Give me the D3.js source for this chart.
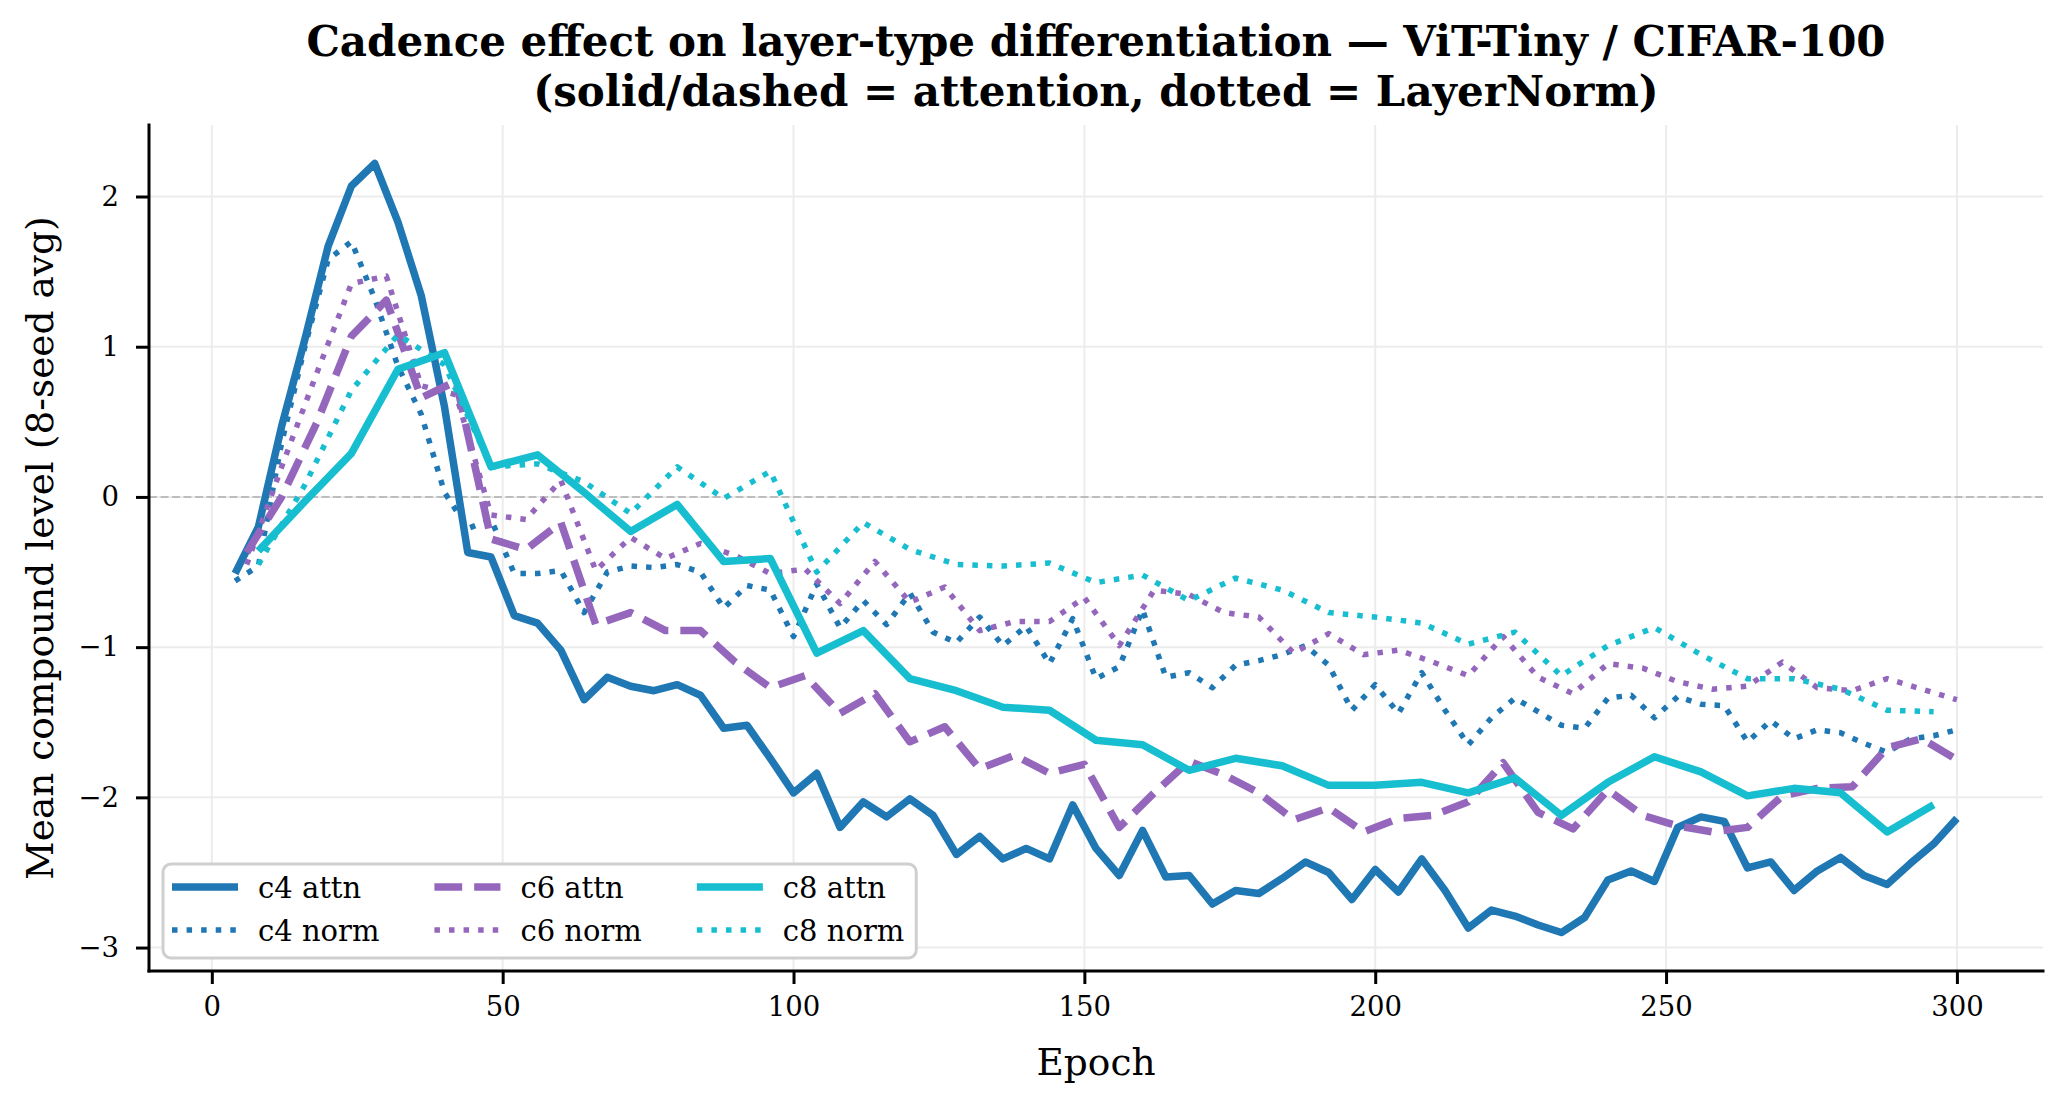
<!DOCTYPE html>
<html>
<head>
<meta charset="utf-8">
<script src="https://cdn.jsdelivr.net/npm/d3@7"></script>
<style>
  html, body { margin: 0; padding: 0; background: #fff; }
  svg { display: block; }
  text { font-family: "DejaVu Serif", serif; fill: #000; }
</style>
</head>
<body>
<script>
// ---------------- data ----------------
const epochsC4 = d3.range(4, 301, 4);
const epochsC6 = d3.range(6, 301, 6);
const epochsC8 = d3.range(8, 297, 8);

const c4Attn = [-0.51,-0.20,0.47,1.05,1.67,2.07,2.22,1.83,1.34,0.60,-0.37,-0.40,-0.79,-0.84,-1.02,-1.35,-1.20,-1.26,-1.29,-1.25,
  -1.32,-1.54,-1.52,-1.74,-1.97,-1.84,-2.20,-2.03,-2.13,-2.01,-2.12,-2.38,-2.26,-2.41,-2.34,-2.41,-2.05,-2.34,-2.52,-2.22,
  -2.53,-2.52,-2.71,-2.62,-2.64,-2.54,-2.43,-2.50,-2.68,-2.48,-2.63,-2.41,-2.62,-2.87,-2.75,-2.79,-2.85,-2.90,-2.80,-2.55,
  -2.49,-2.56,-2.20,-2.13,-2.16,-2.47,-2.43,-2.62,-2.49,-2.40,-2.52,-2.58,-2.44,-2.31,-2.14];
const c4Norm = [-0.56,-0.46,0.36,1.00,1.58,1.70,1.32,0.87,0.55,0.03,-0.21,-0.15,-0.51,-0.51,-0.49,-0.77,-0.50,-0.46,-0.47,-0.45,
  -0.50,-0.74,-0.59,-0.62,-0.93,-0.58,-0.87,-0.69,-0.85,-0.64,-0.90,-0.97,-0.80,-0.99,-0.86,-1.11,-0.81,-1.21,-1.13,-0.75,
  -1.20,-1.17,-1.27,-1.12,-1.09,-1.05,-0.99,-1.12,-1.42,-1.25,-1.44,-1.17,-1.42,-1.65,-1.47,-1.34,-1.43,-1.52,-1.54,-1.34,
  -1.32,-1.47,-1.33,-1.38,-1.39,-1.63,-1.49,-1.61,-1.55,-1.57,-1.64,-1.70,-1.61,-1.59,-1.55];
const c6Attn = [-0.37,0.00,0.49,1.07,1.31,0.66,0.77,-0.28,-0.35,-0.17,-0.85,-0.77,-0.89,-0.89,-1.10,-1.27,-1.19,-1.44,-1.31,-1.63,
  -1.53,-1.81,-1.72,-1.84,-1.78,-2.20,-1.97,-1.76,-1.85,-1.97,-2.15,-2.07,-2.23,-2.14,-2.12,-2.03,-1.77,-2.10,-2.21,-1.95,
  -2.12,-2.19,-2.23,-2.20,-1.99,-1.94,-1.93,-1.67,-1.61,-1.75];
const c6Norm = [-0.45,0.20,0.82,1.42,1.47,0.74,0.68,-0.12,-0.15,0.11,-0.49,-0.27,-0.41,-0.31,-0.39,-0.51,-0.48,-0.71,-0.43,-0.70,
  -0.60,-0.89,-0.83,-0.83,-0.67,-0.99,-0.62,-0.65,-0.77,-0.80,-1.04,-0.91,-1.05,-1.02,-1.10,-1.19,-0.93,-1.20,-1.31,-1.11,
  -1.14,-1.23,-1.28,-1.26,-1.10,-1.27,-1.29,-1.21,-1.28,-1.35];
const c8Attn = [-0.36,-0.03,0.29,0.85,0.96,0.20,0.28,0.03,-0.23,-0.05,-0.43,-0.41,-1.04,-0.89,-1.21,-1.29,-1.40,-1.42,-1.62,-1.65,
  -1.82,-1.74,-1.79,-1.92,-1.92,-1.90,-1.97,-1.87,-2.12,-1.90,-1.73,-1.83,-1.99,-1.94,-1.97,-2.23,-2.05];
const c8Norm = [-0.45,0.08,0.71,1.08,0.88,0.20,0.22,0.10,-0.11,0.20,-0.01,0.17,-0.50,-0.17,-0.35,-0.45,-0.46,-0.44,-0.57,-0.52,
  -0.69,-0.54,-0.62,-0.77,-0.80,-0.84,-0.98,-0.90,-1.19,-0.99,-0.87,-1.05,-1.21,-1.21,-1.28,-1.42,-1.43];

const seriesLabels = ["c4 attn", "c4 norm", "c6 attn", "c6 norm", "c8 attn", "c8 norm"];
const xTicks = [0, 50, 100, 150, 200, 250, 300];
const yTicks = [-3, -2, -1, 0, 1, 2];
const titleLines = ["Cadence effect on layer-type differentiation \u2014 ViT-Tiny / CIFAR-100",
                    "(solid/dashed = attention, dotted = LayerNorm)"];
const xLabel = "Epoch";
const yLabel = "Mean compound level (8-seed avg)";

// ---------------- styles ----------------
const C4 = "#1f77b4", C6 = "#9467bd", C8 = "#17becf";
const LW_A = 7.5, LW_N = 5.5;
const DASH = `${3.7 * LW_A} ${1.6 * LW_A}`;
const DOT = `${1 * LW_N} ${1.65 * LW_N}`;

const series = [
  {label: seriesLabels[0], x: epochsC4, y: c4Attn, color: C4, lw: LW_A, dash: null},
  {label: seriesLabels[1], x: epochsC4, y: c4Norm, color: C4, lw: LW_N, dash: DOT},
  {label: seriesLabels[2], x: epochsC6, y: c6Attn, color: C6, lw: LW_A, dash: DASH},
  {label: seriesLabels[3], x: epochsC6, y: c6Norm, color: C6, lw: LW_N, dash: DOT},
  {label: seriesLabels[4], x: epochsC8, y: c8Attn, color: C8, lw: LW_A, dash: null},
  {label: seriesLabels[5], x: epochsC8, y: c8Norm, color: C8, lw: LW_N, dash: DOT},
];

// ---------------- layout ----------------
const W = 2067, H = 1106;
const L = 149, R = 2043, T = 125, B = 971;

const allX = series.flatMap(s => s.x), allY = series.flatMap(s => s.y);
const [x0, x1] = d3.extent(allX), [y0, y1] = d3.extent(allY);
const mx = 0.05 * (x1 - x0), my = 0.05 * (y1 - y0);
const x = d3.scaleLinear().domain([x0 - mx, x1 + mx]).range([L, R]);
const y = d3.scaleLinear().domain([y0 - my, y1 + my]).range([B, T]);

const svg = d3.select("body").append("svg").attr("width", W).attr("height", H);
svg.append("rect").attr("width", W).attr("height", H).attr("fill", "#fff");

const fmt = d => (d < 0 ? "\u2212" + Math.abs(d) : String(d));

// grid
const grid = svg.append("g");
grid.selectAll("line.gx").data(xTicks).join("line")
  .attr("x1", d => x(d)).attr("x2", d => x(d)).attr("y1", T).attr("y2", B)
  .attr("stroke", "#ececec").attr("stroke-width", 2);
grid.selectAll("line.gy").data(yTicks).join("line")
  .attr("x1", L).attr("x2", R).attr("y1", d => y(d)).attr("y2", d => y(d))
  .attr("stroke", "#ececec").attr("stroke-width", 2);

// zero line
svg.append("line").attr("x1", L).attr("x2", R).attr("y1", y(0)).attr("y2", y(0))
  .attr("stroke", "#bdbdbd").attr("stroke-width", 2).attr("stroke-dasharray", "8 3.5");

// series
const line = d3.line().x(d => x(d[0])).y(d => y(d[1]));
const gLines = svg.append("g");
series.forEach(s => {
  gLines.append("path")
    .attr("d", line(s.x.map((e, i) => [e, s.y[i]])))
    .attr("fill", "none").attr("stroke", s.color).attr("stroke-width", s.lw)
    .attr("stroke-linejoin", "round").attr("stroke-linecap", "butt")
    .attr("stroke-dasharray", s.dash);
});

// axes
const xAxis = d3.axisBottom(x).tickValues(xTicks).tickFormat(fmt).tickSize(13).tickPadding(12);
const yAxis = d3.axisLeft(y).tickValues(yTicks).tickFormat(fmt).tickSize(13).tickPadding(17);
const gx = svg.append("g").attr("transform", `translate(0,${B})`).call(xAxis);
const gy = svg.append("g").attr("transform", `translate(${L},0)`).call(yAxis);
[gx, gy].forEach(g => {
  g.select(".domain").remove();
  g.selectAll(".tick line").attr("stroke", "#000").attr("stroke-width", 3);
  g.selectAll(".tick text").attr("font-family", "DejaVu Serif").attr("font-size", 27.5).attr("fill", "#000");
});
// spines (left and bottom only)
svg.append("line").attr("x1", L).attr("x2", R).attr("y1", B).attr("y2", B)
  .attr("stroke", "#000").attr("stroke-width", 3).attr("stroke-linecap", "square");
svg.append("line").attr("x1", L).attr("x2", L).attr("y1", T).attr("y2", B)
  .attr("stroke", "#000").attr("stroke-width", 3).attr("stroke-linecap", "square");

// labels
svg.append("text").attr("x", (L + R) / 2).attr("y", 1075).attr("text-anchor", "middle")
  .attr("font-size", 37.5).text(xLabel);
svg.append("text").attr("transform", `translate(53,${(T + B) / 2}) rotate(-90)`)
  .attr("text-anchor", "middle").attr("font-size", 37.5).text(yLabel);

// title
titleLines.forEach((t, i) => {
  svg.append("text").attr("x", (L + R) / 2).attr("y", 56 + i * 50)
    .attr("text-anchor", "middle").attr("font-weight", "bold").attr("font-size", 42).text(t);
});

// legend
const leg = svg.append("g");
const legBox = leg.append("rect").attr("fill", "#fff").attr("stroke", "#cfcfcf")
  .attr("stroke-width", 3).attr("rx", 8).attr("ry", 8);
const handleLen = 66, handlePad = 20, colSpace = 55, legFont = 29;
const rowY = [887, 930];
let colX = 172, rightEdge = 0;
for (let c = 0; c < 3; c++) {
  let maxW = 0;
  for (let r = 0; r < 2; r++) {
    const s = series[c * 2 + r];
    leg.append("line").attr("x1", colX).attr("x2", colX + handleLen)
      .attr("y1", rowY[r]).attr("y2", rowY[r])
      .attr("stroke", s.color).attr("stroke-width", s.lw).attr("stroke-dasharray", s.dash);
    const tx = leg.append("text").attr("x", colX + handleLen + handlePad).attr("y", rowY[r] + 10.5)
      .attr("font-size", legFont).text(s.label);
    maxW = Math.max(maxW, tx.node().getComputedTextLength());
  }
  rightEdge = colX + handleLen + handlePad + maxW;
  colX = rightEdge + colSpace;
}
legBox.attr("x", 163).attr("y", 864).attr("width", rightEdge + 12 - 163).attr("height", 958 - 864);
</script>
</body>
</html>
